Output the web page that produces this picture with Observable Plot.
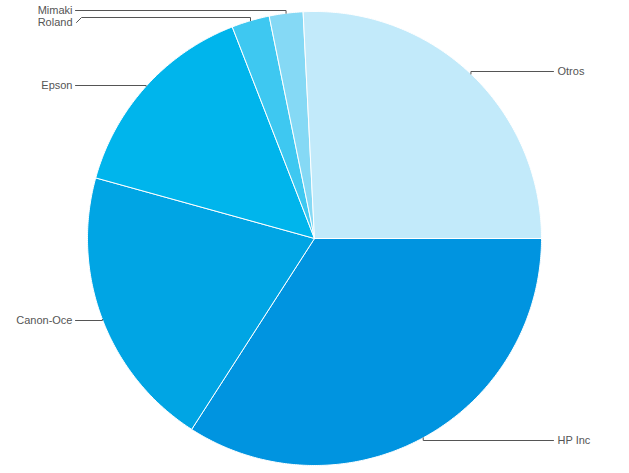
<!DOCTYPE html>
<html>
<head>
<meta charset="utf-8">
<script src="https://cdn.jsdelivr.net/npm/d3@7"></script>
<script src="https://cdn.jsdelivr.net/npm/@observablehq/plot@0.6"></script>
<style>
  html, body { margin: 0; padding: 0; background: #fff; }
  #chart { width: 629px; height: 473px; }
</style>
</head>
<body>
<div id="chart"></div>
<script>
// Data (clockwise from 3 o'clock)
const brands = ["HP Inc", "Canon-Oce", "Epson", "Roland", "Mimaki", "Otros"];
const shares = [34.1, 20.2, 14.8, 2.7, 2.4, 25.8];

// Styles / layout
const colors = ["#0094e0", "#00a5e4", "#00b5ec", "#3ec8f1", "#85d9f5", "#c2eafa"];
const W = 629, H = 473, CX = 314, CY = 238, R = 227;
const labelSide = ["right", "left", "left", "left", "left", "right"];
const labelPy = [440, 320, 85, 22, 10, 71];   // pixel y of label text
const linePy  = [440, 320, 85, 17, 10, 71];   // pixel y of leader horizontal

const total = d3.sum(shares);
let acc = 0;
const slices = shares.map((v, i) => {
  const a0 = acc / total * 2 * Math.PI;
  acc += v;
  const a1 = acc / total * 2 * Math.PI;
  return {brand: brands[i], a0, a1, color: colors[i], i};
});

// unit-circle data space, y up
const pt = (a, r = 1) => [r * Math.cos(a), -r * Math.sin(a)];
const px2x = (p) => (p - CX) / R;
const py2y = (p) => (CY - p) / R;

const marks = [];
for (const s of slices) {
  const pts = [[0, 0]];
  const n = Math.max(4, Math.ceil((s.a1 - s.a0) / (Math.PI / 360)));
  for (let k = 0; k <= n; k++) pts.push(pt(s.a0 + (s.a1 - s.a0) * k / n));
  pts.push([0, 0]);
  marks.push(Plot.line(pts, {x: d => d[0], y: d => d[1], fill: s.color, stroke: "#fff", strokeWidth: 1, curve: "linear"}));
}

// leaders and labels
const leaders = [];
const labels = [];
for (const s of slices) {
  const mid = (s.a0 + s.a1) / 2;
  const e = pt(mid);
  const side = labelSide[s.i];
  const ly = py2y(linePy[s.i]);
  const endX = side === "right" ? px2x(553) : px2x(75);
  const path = [e, [e[0], ly]];
  if (labelPy[s.i] !== linePy[s.i]) {
    path.push([px2x(81), ly]);
    path.push([px2x(76), py2y(labelPy[s.i])]);
  } else {
    path.push([endX, ly]);
  }
  path.forEach(p => leaders.push({x: p[0], y: p[1], k: s.brand}));
  labels.push({
    x: side === "right" ? px2x(557) : px2x(72),
    y: py2y(labelPy[s.i]),
    t: s.brand,
    anchor: side === "right" ? "start" : "end"
  });
}

marks.push(Plot.line(leaders, {x: "x", y: "y", z: "k", stroke: "#555", strokeWidth: 1}));
marks.push(Plot.text(labels.filter(d => d.anchor === "start"), {x: "x", y: "y", text: "t", textAnchor: "start", fill: "#555", fontSize: 11}));
marks.push(Plot.text(labels.filter(d => d.anchor === "end"), {x: "x", y: "y", text: "t", textAnchor: "end", fill: "#555", fontSize: 11}));

const chart = Plot.plot({
  width: W, height: H,
  margin: 0,
  x: {domain: [px2x(0), px2x(W)], axis: null},
  y: {domain: [py2y(H), py2y(0)], axis: null},
  style: {fontFamily: "'Liberation Sans', Arial, Helvetica, sans-serif", background: "#fff"},
  marks
});
document.getElementById("chart").appendChild(chart);
</script>
</body>
</html>
